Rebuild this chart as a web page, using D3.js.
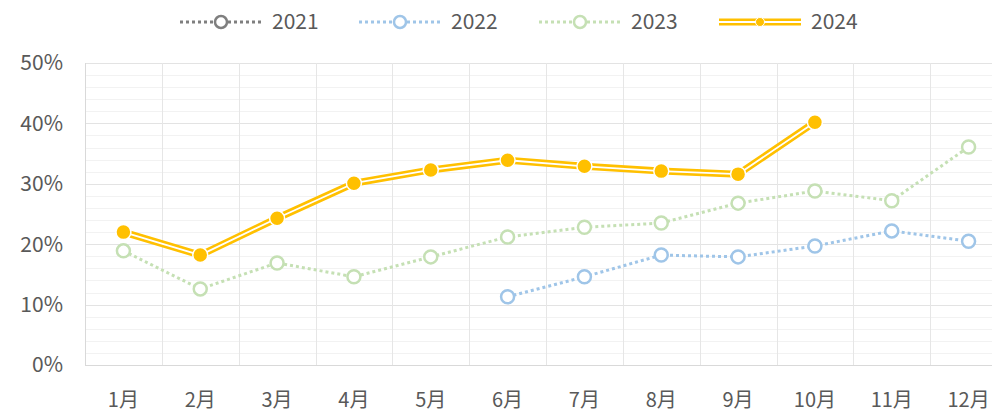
<!DOCTYPE html>
<html>
<head>
<meta charset="utf-8">
<script src="https://cdn.jsdelivr.net/npm/d3@7"></script>
<style>
  body { margin: 0; background: #fff; }
  text { font-family: "Noto Sans CJK SC", "Noto Sans", sans-serif; fill: #595959; }
</style>
</head>
<body>
<svg width="992" height="415"></svg>
<script>

var months = ["1月","2月","3月","4月","5月","6月","7月","8月","9月","10月","11月","12月"];
var yTicks = [0, 10, 20, 30, 40, 50];

// null = no value for that month
var s2021 = [null,null,null,null,null,null,null,null,null,null,null,null];
var s2022 = [null,null,null,null,null,11.3,14.6,18.2,17.9,19.7,22.2,20.5];
var s2023 = [18.9,12.6,16.9,14.6,17.9,21.2,22.8,23.5,26.8,28.8,27.2,36.1];
var s2024 = [22.0,18.2,24.3,30.1,32.3,33.9,32.9,32.1,31.6,40.2,null,null];

var series = [
  {name: "2021", values: s2021, color: "#7f7f7f", kind: "dot"},
  {name: "2022", values: s2022, color: "#9fc5e8", kind: "dot"},
  {name: "2023", values: s2023, color: "#c5e0b4", kind: "dot"},
  {name: "2024", values: s2024, color: "#ffc000", kind: "double"}
];

var svg = d3.select("svg");
var plotLeft = 85, plotRight = 1007, plotTop = 63, plotBottom = 365;

var x = d3.scaleBand().domain(months).range([plotLeft, plotRight]);
var y = d3.scaleLinear().domain([0, 50]).range([plotBottom, plotTop]);

// minor gridlines every 2%
svg.append("g").selectAll("line")
  .data(d3.range(0, 51, 2).filter(function(v){ return v % 10 != 0; }))
  .enter().append("line")
  .attr("x1", plotLeft).attr("x2", plotRight)
  .attr("y1", function(d){ return Math.round(y(d)) + 0.5; })
  .attr("y2", function(d){ return Math.round(y(d)) + 0.5; })
  .style("stroke", "#f2f2f2").style("stroke-width", 1);

// major gridlines
svg.append("g").selectAll("line")
  .data(yTicks.slice(1))
  .enter().append("line")
  .attr("x1", plotLeft).attr("x2", plotRight)
  .attr("y1", function(d){ return Math.round(y(d)) + 0.5; })
  .attr("y2", function(d){ return Math.round(y(d)) + 0.5; })
  .style("stroke", "#e3e3e3").style("stroke-width", 1);

// vertical gridlines
svg.append("g").selectAll("line")
  .data(months.slice(1))
  .enter().append("line")
  .attr("x1", function(d){ return Math.round(x(d)) + 0.5; })
  .attr("x2", function(d){ return Math.round(x(d)) + 0.5; })
  .attr("y1", plotTop).attr("y2", plotBottom)
  .style("stroke", "#e6e6e6").style("stroke-width", 1);

// plot axes
svg.append("line")
  .attr("x1", plotLeft + 0.5).attr("x2", plotLeft + 0.5).attr("y1", plotTop).attr("y2", plotBottom)
  .style("stroke", "#d9d9d9");
svg.append("line")
  .attr("x1", plotLeft).attr("x2", plotRight).attr("y1", plotBottom + 0.5).attr("y2", plotBottom + 0.5)
  .style("stroke", "#d9d9d9");

// y labels
svg.append("g").selectAll("text")
  .data(yTicks)
  .enter().append("text")
  .attr("x", 63)
  .attr("y", function(d){ return y(d); })
  .attr("dy", "0.35em")
  .attr("text-anchor", "end")
  .style("font-size", "21px")
  .text(function(d){ return d + "%"; });

// x labels
svg.append("g").selectAll("text")
  .data(months)
  .enter().append("text")
  .attr("x", function(d){ return x(d) + x.bandwidth() / 2; })
  .attr("y", 400)
  .attr("dy", "0.35em")
  .attr("text-anchor", "middle")
  .style("font-size", "20px")
  .text(function(d){ return d; });

var line = d3.line()
  .defined(function(d){ return d.v != null; })
  .x(function(d){ return x(d.m) + x.bandwidth() / 2; })
  .y(function(d){ return y(d.v); });

function pts(s) {
  return s.values.map(function(v, i){ return {m: months[i], v: v}; });
}

series.forEach(function(s) {
  var data = pts(s);
  var g = svg.append("g").attr("class", "series-" + s.name);
  if (s.kind == "double") {
    g.append("path").attr("d", line(data))
      .style("fill", "none").style("stroke", s.color).style("stroke-width", 7)
      .style("stroke-linejoin", "round");
    g.append("path").attr("d", line(data))
      .style("fill", "none").style("stroke", "#fff").style("stroke-width", 1.8)
      .style("stroke-linejoin", "round");
    g.selectAll("circle")
      .data(data.filter(function(d){ return d.v != null; }))
      .enter().append("circle")
      .attr("cx", function(d){ return x(d.m) + x.bandwidth() / 2; })
      .attr("cy", function(d){ return y(d.v); })
      .attr("r", 7.5)
      .style("fill", s.color).style("stroke", "#fff").style("stroke-width", 1.5);
  } else {
    g.append("path").attr("d", line(data))
      .style("fill", "none").style("stroke", s.color).style("stroke-width", 3)
      .style("stroke-dasharray", "3,3");
    g.selectAll("circle")
      .data(data.filter(function(d){ return d.v != null; }))
      .enter().append("circle")
      .attr("cx", function(d){ return x(d.m) + x.bandwidth() / 2; })
      .attr("cy", function(d){ return y(d.v); })
      .attr("r", 6.5)
      .style("fill", "#fff").style("stroke", s.color).style("stroke-width", 2.5);
  }
});

// legend
var legendX = [180, 359, 539, 719];
var leg = svg.append("g").selectAll("g")
  .data(series)
  .enter().append("g")
  .attr("transform", function(d, i){ return "translate(" + legendX[i] + ",22)"; });

leg.each(function(s) {
  var g = d3.select(this);
  if (s.kind == "double") {
    g.append("line").attr("x1", 0).attr("x2", 82)
      .style("stroke", s.color).style("stroke-width", 7);
    g.append("line").attr("x1", 0).attr("x2", 82)
      .style("stroke", "#fff").style("stroke-width", 1.8);
    g.append("circle").attr("cx", 41).attr("r", 4.5)
      .style("fill", s.color).style("stroke", "#fff").style("stroke-width", 1);
  } else {
    g.append("line").attr("x1", 0).attr("x2", 82)
      .style("stroke", s.color).style("stroke-width", 3)
      .style("stroke-dasharray", "3,3");
    g.append("circle").attr("cx", 41).attr("r", 6)
      .style("fill", "#fff").style("stroke", s.color).style("stroke-width", 2.5);
  }
  g.append("text").attr("x", 92).attr("dy", "0.35em")
    .style("font-size", "21px")
    .text(s.name);
});

</script>
</body>
</html>
